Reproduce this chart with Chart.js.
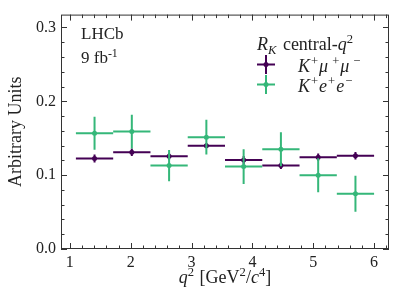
<!DOCTYPE html>
<html>
<head>
<meta charset="utf-8">
<script src="https://cdn.jsdelivr.net/npm/chart.js@4"></script>
<style>
  html, body { margin: 0; padding: 0; background: #fff; }
  #wrap { width: 399px; height: 301px; }
</style>
</head>
<body>
<div id="wrap"><canvas id="chart" width="399" height="301"></canvas></div>
<script>
// bin edges in q^2 [GeV^2/c^4]
const binEdges = [1.1, 1.7125, 2.325, 2.9375, 3.55, 4.1625, 4.775, 5.3875, 6.0];
const muonValues = [0.1226, 0.1310, 0.1255, 0.1398, 0.1204, 0.1129, 0.1244, 0.1262];
const muonErrors = [0.0055, 0.0050, 0.0045, 0.0035, 0.0055, 0.0045, 0.0050, 0.0050];
const eeValues = [0.1567, 0.1590, 0.1129, 0.1514, 0.1116, 0.1350, 0.1000, 0.0748];
const eeErrors = [0.0223, 0.0229, 0.0210, 0.0235, 0.0235, 0.0230, 0.0230, 0.0245];
const xTicks = [1, 2, 3, 4, 5, 6];
const yTicks = [0.0, 0.1, 0.2, 0.3];

const purple = '#440154';
const green = '#35b779';
const ink = '#222222';
const serif = '"Liberation Serif", "DejaVu Serif", serif';

const centers = binEdges.slice(0, -1).map((e, i) => (e + binEdges[i + 1]) / 2);

function drawRich(ctx, segs, x, y, size, align) {
    const parts = segs.map(s => {
        const fs = (s.sup || s.sub) ? size * 0.7 : size;
        const font = (s.i ? 'italic ' : '') + fs + 'px ' + serif;
        ctx.font = font;
        return { t: s.t, sup: s.sup, sub: s.sub, font: font, w: ctx.measureText(s.t).width + (s.gap || 0) };
    });
    const total = parts.reduce((a, p) => a + p.w, 0);
    let cx = align === 'center' ? x - total / 2 : x;
    ctx.textAlign = 'left';
    ctx.textBaseline = 'alphabetic';
    parts.forEach(p => {
        ctx.font = p.font;
        const dy = p.sup ? -size * 0.38 : (p.sub ? size * 0.22 : 0);
        ctx.fillText(p.t, cx, y + dy);
        cx += p.w;
    });
}

// error bars, drawn just before each dataset's markers
const errorBars = {
    id: 'errorBars',
    beforeDatasetDraw(chart, args) {
        const ds = chart.data.datasets[args.index];
        const xs = chart.scales.x, ys = chart.scales.y;
        const ctx = chart.ctx;
        ctx.save();
        ctx.strokeStyle = ds.borderColor;
        ctx.lineWidth = 2;
        ds.data.forEach((p, j) => {
            const x0 = xs.getPixelForValue(binEdges[j]);
            const x1 = xs.getPixelForValue(binEdges[j + 1]);
            const xc = xs.getPixelForValue(p.x);
            const yc = ys.getPixelForValue(p.y);
            const yl = ys.getPixelForValue(p.y - ds.errY[j]);
            const yh = ys.getPixelForValue(p.y + ds.errY[j]);
            ctx.beginPath();
            ctx.moveTo(x0, yc); ctx.lineTo(x1, yc);
            ctx.moveTo(xc, yl); ctx.lineTo(xc, yh);
            ctx.stroke();
        });
        ctx.restore();
    }
};

// frame, inward ticks on all sides, titles, annotations and legend
const decorations = {
    id: 'decorations',
    afterDraw(chart) {
        const ctx = chart.ctx;
        const a = chart.chartArea;
        const xs = chart.scales.x, ys = chart.scales.y;
        ctx.save();
        ctx.strokeStyle = '#333';
        ctx.lineWidth = 1;
        ctx.strokeRect(a.left + 0.5, a.top + 0.5, a.right - a.left - 1, a.bottom - a.top - 1);

        ctx.beginPath();
        for (let v = 1.0; v <= 6.21; v += 0.2) {
            const px = Math.round(xs.getPixelForValue(v)) + 0.5;
            const major = Math.abs(v - Math.round(v)) < 1e-6;
            const len = major ? 6 : 3.5;
            ctx.moveTo(px, a.bottom); ctx.lineTo(px, a.bottom - len);
            ctx.moveTo(px, a.top); ctx.lineTo(px, a.top + len);
        }
        for (let k = 0; k <= 15; k++) {
            const v = k * 0.02;
            const py = Math.round(ys.getPixelForValue(v)) + 0.5;
            const len = (k % 5 === 0) ? 6 : 3.5;
            ctx.moveTo(a.left, py); ctx.lineTo(a.left + len, py);
            ctx.moveTo(a.right, py); ctx.lineTo(a.right - len, py);
        }
        ctx.stroke();

        ctx.fillStyle = ink;
        // axis titles
        drawRich(ctx, [{ t: 'q', i: true }, { t: '2', sup: true, gap: 1 }, { t: ' [GeV' }, { t: '2', sup: true },
            { t: '/' }, { t: 'c', i: true }, { t: '4', sup: true }, { t: ']' }],
            (a.left + a.right) / 2, 283, 18, 'center');
        ctx.save();
        ctx.translate(21, (a.top + a.bottom) / 2);
        ctx.rotate(-Math.PI / 2);
        drawRich(ctx, [{ t: 'Arbitrary Units' }], 0, 0, 18, 'center');
        ctx.restore();

        // experiment label
        drawRich(ctx, [{ t: 'LHCb' }], 81, 39, 17, 'left');
        drawRich(ctx, [{ t: '9 fb' }, { t: '-1', sup: true }], 81, 63, 17, 'left');

        // legend
        drawRich(ctx, [{ t: 'R', i: true }, { t: 'K', i: true, sub: true, gap: 2 }, { t: ' central-' },
            { t: 'q', i: true }, { t: '2', sup: true }], 257, 50, 18, 'left');
        const entries = [
            { c: purple, y: 64.5, segs: [{ t: 'K', i: true, gap: 1 }, { t: '+', sup: true, gap: 1 }, { t: 'μ', i: true, gap: 4 },
                { t: '+', sup: true, gap: 1 }, { t: 'μ', i: true, gap: 4 }, { t: '−', sup: true }] },
            { c: green, y: 84.5, segs: [{ t: 'K', i: true, gap: 1 }, { t: '+', sup: true, gap: 1 }, { t: 'e', i: true, gap: 1 },
                { t: '+', sup: true, gap: 1 }, { t: 'e', i: true, gap: 1 }, { t: '−', sup: true }] }
        ];
        entries.forEach(e => {
            ctx.strokeStyle = e.c;
            ctx.fillStyle = e.c;
            ctx.lineWidth = 2;
            ctx.beginPath();
            ctx.moveTo(257, e.y); ctx.lineTo(275, e.y);
            ctx.moveTo(266, e.y - 9.5); ctx.lineTo(266, e.y + 9.5);
            ctx.stroke();
            ctx.beginPath();
            ctx.arc(266, e.y, 2.5, 0, Math.PI * 2);
            ctx.fill();
            ctx.fillStyle = ink;
            drawRich(ctx, e.segs, 298, e.y + 7.5, 18, 'left');
        });
        ctx.restore();
    }
};

new Chart(document.getElementById('chart'), {
    type: 'scatter',
    data: {
        datasets: [
            {
                label: 'K+e+e-',
                data: centers.map((x, i) => ({ x: x, y: eeValues[i] })),
                errY: eeErrors,
                borderColor: green,
                backgroundColor: green,
                pointRadius: 2.5,
                pointBorderWidth: 0
            },
            {
                label: 'K+mu+mu-',
                data: centers.map((x, i) => ({ x: x, y: muonValues[i] })),
                errY: muonErrors,
                borderColor: purple,
                backgroundColor: purple,
                pointRadius: 2.5,
                pointBorderWidth: 0
            }
        ]
    },
    options: {
        responsive: false,
        animation: false,
        layout: { padding: { top: 10, right: 10, left: 0, bottom: 0 } },
        plugins: {
            legend: { display: false },
            tooltip: { enabled: false }
        },
        scales: {
            x: {
                type: 'linear',
                min: 0.855,
                max: 6.245,
                grid: { display: false, drawTicks: false },
                border: { display: false },
                afterBuildTicks: s => { s.ticks = xTicks.map(v => ({ value: v })); },
                afterFit: s => { s.height = 52; },
                ticks: {
                    padding: 4,
                    color: ink,
                    font: { family: serif, size: 16 },
                    callback: v => String(v)
                }
            },
            y: {
                type: 'linear',
                min: 0,
                max: 0.3174,
                grid: { display: false, drawTicks: false },
                border: { display: false },
                afterBuildTicks: s => { s.ticks = yTicks.map(v => ({ value: v })); },
                afterFit: s => { s.width = 61; },
                ticks: {
                    padding: 5,
                    color: ink,
                    font: { family: serif, size: 16 },
                    callback: v => v.toFixed(1)
                }
            }
        }
    },
    plugins: [errorBars, decorations]
});
</script>
</body>
</html>
